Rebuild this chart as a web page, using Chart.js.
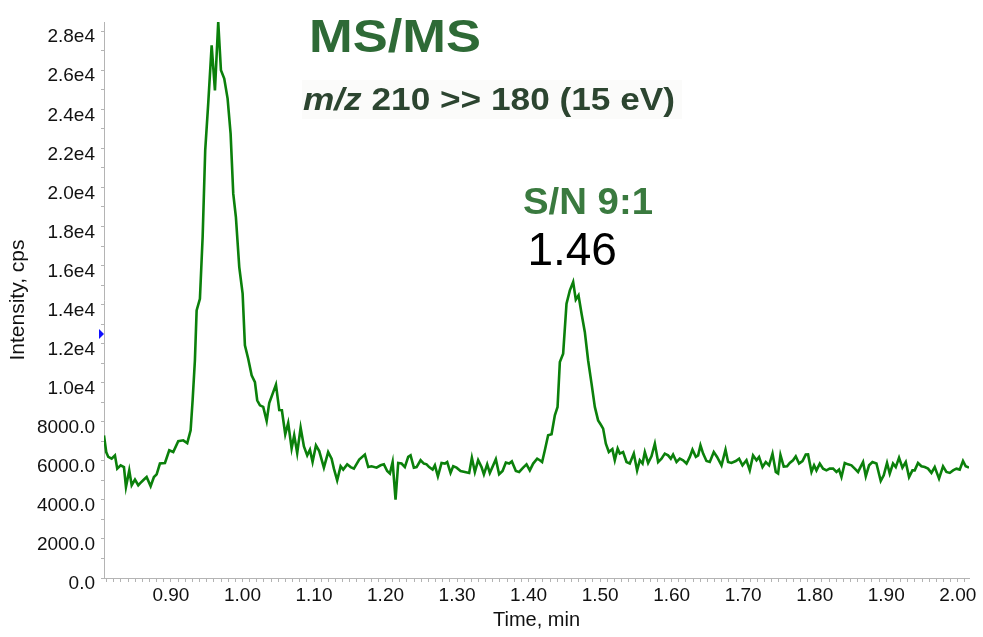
<!DOCTYPE html>
<html lang="en">
<head>
    <meta charset="UTF-8">
    <title>MS/MS chromatogram</title>
    <script src="https://cdn.jsdelivr.net/npm/chart.js"></script>
    <style>
        html, body { margin: 0; padding: 0; background: #ffffff; }
        #chrom { display: block; }
    </style>
</head>
<body>
    <canvas id="chrom" width="983" height="637"></canvas>

    <script>
        // retention time, min
        const times = [
            0.8064, 0.8095, 0.8124, 0.8171, 0.8217, 0.8249, 0.8297, 0.8343, 0.8371, 0.8417,
            0.8451, 0.8497, 0.8543, 0.8571, 0.8615, 0.8660, 0.8716, 0.8762, 0.8800, 0.8846,
            0.8916, 0.8976, 0.9032, 0.9102, 0.9172, 0.9228, 0.9275, 0.9303, 0.9335, 0.9359,
            0.9405, 0.9443, 0.9479, 0.9521, 0.9569, 0.9615, 0.9661, 0.9699, 0.9745, 0.9792,
            0.9834, 0.9871, 0.9908, 0.9955, 1.0002, 1.0034, 1.0080, 1.0128, 1.0174, 1.0206,
            1.0244, 1.0290, 1.0338, 1.0374, 1.0468, 1.0514, 1.0551, 1.0598, 1.0639, 1.0687,
            1.0723, 1.0765, 1.0813, 1.0859, 1.0905, 1.0943, 1.0980, 1.1027, 1.1073, 1.1138,
            1.1198, 1.1246, 1.1278, 1.1324, 1.1372, 1.1408, 1.1464, 1.1512, 1.1558, 1.1632,
            1.1711, 1.1758, 1.1805, 1.1875, 1.1931, 1.1977, 1.2023, 1.2061, 1.2099, 1.2140,
            1.2177, 1.2224, 1.2270, 1.2317, 1.2350, 1.2396, 1.2434, 1.2490, 1.2536, 1.2574,
            1.2610, 1.2658, 1.2690, 1.2732, 1.2783, 1.2830, 1.2862, 1.2909, 1.2946, 1.2993,
            1.3049, 1.3109, 1.3169, 1.3207, 1.3249, 1.3295, 1.3342, 1.3375, 1.3421, 1.3458,
            1.3542, 1.3588, 1.3636, 1.3682, 1.3728, 1.3766, 1.3822, 1.3868, 1.3924, 1.3971,
            1.4017, 1.4064, 1.4120, 1.4157, 1.4189, 1.4227, 1.4273, 1.4321, 1.4367, 1.4405,
            1.4437, 1.4483, 1.4530, 1.4577, 1.4623, 1.4660, 1.4698, 1.4740, 1.4786, 1.4832,
            1.4880, 1.4926, 1.4972, 1.5006, 1.5042, 1.5080, 1.5122, 1.5171, 1.5205, 1.5245,
            1.5275, 1.5321, 1.5369, 1.5415, 1.5471, 1.5517, 1.5555, 1.5593, 1.5625, 1.5671,
            1.5718, 1.5765, 1.5811, 1.5858, 1.5904, 1.5950, 1.5988, 1.6020, 1.6068, 1.6114,
            1.6160, 1.6208, 1.6254, 1.6291, 1.6338, 1.6370, 1.6403, 1.6440, 1.6487, 1.6533,
            1.6589, 1.6635, 1.6697, 1.6753, 1.6789, 1.6836, 1.6897, 1.6943, 1.6990, 1.7046,
            1.7092, 1.7138, 1.7186, 1.7222, 1.7270, 1.7316, 1.7362, 1.7410, 1.7456, 1.7488,
            1.7521, 1.7567, 1.7614, 1.7651, 1.7697, 1.7735, 1.7781, 1.7829, 1.7875, 1.7907,
            1.7955, 1.7991, 1.8024, 1.8071, 1.8117, 1.8164, 1.8210, 1.8257, 1.8304, 1.8340,
            1.8374, 1.8420, 1.8466, 1.8514, 1.8560, 1.8606, 1.8676, 1.8714, 1.8760, 1.8807,
            1.8863, 1.8923, 1.8965, 1.9011, 1.9049, 1.9095, 1.9133, 1.9179, 1.9226, 1.9273,
            1.9319, 1.9366, 1.9398, 1.9444, 1.9492, 1.9538, 1.9584, 1.9632, 1.9678, 1.9738,
            1.9794, 1.9841, 1.9888, 1.9934, 1.9981, 2.0027, 2.0073, 2.0111, 2.0157
        ];

        // intensity, cps
        const intensities = [
            7300, 6450, 6200, 6110, 6280, 5600, 5770, 5680, 4660, 5510,
            4750, 5040, 4750, 4860, 5020, 5170, 4700, 5170, 5310, 5860,
            5890, 6540, 6450, 7010, 7050, 6910, 7560, 9100, 11150, 13700,
            14300, 17460, 21900, 24290, 27270, 24970, 28470, 26000, 25570, 24550,
            22750, 19680, 18480, 15920, 14560, 11910, 11230, 10380, 10030, 9100,
            8840, 8760, 8040, 8960, 9900, 8600, 8590, 7360, 7940, 6630,
            7310, 6400, 7700, 6740, 6280, 6570, 5940, 6790, 6500, 5650,
            6450, 6110, 5600, 5000, 5720, 5550, 5820, 5680, 5600, 6060,
            6320, 5680, 5720, 5650, 5770, 5820, 5480, 5350, 5940, 4010,
            5890, 5860, 5680, 6200, 6280, 5650, 5680, 6030, 5860, 5820,
            5680, 5550, 5770, 5210, 5890, 5860, 5940, 5380, 5720, 5650,
            5480, 5430, 5380, 6160, 5430, 6030, 5680, 5310, 5820, 5380,
            6080, 5310, 5480, 5910, 5860, 5970, 5480, 5430, 5650, 5820,
            5510, 5860, 6110, 6030, 5940, 6540, 7310, 7360, 8330, 8760,
            11060, 11490, 14050, 14730, 15160, 14250, 14470, 13540, 12600, 11150,
            9950, 8760, 8070, 7870, 7650, 6880, 6450, 6600, 6030, 6630,
            6370, 6450, 5940, 5860, 6370, 5510, 6030, 5860, 6450, 5890,
            6230, 6880, 5940, 6110, 6370, 6280, 6110, 6320, 5940, 6110,
            6030, 5860, 6200, 6570, 6200, 6280, 6790, 6370, 5990, 5940,
            6450, 6200, 5770, 6570, 5940, 5890, 5990, 6110, 5770, 6030,
            5510, 6280, 6030, 6200, 5680, 5940, 5770, 6370, 5430, 5350,
            6300, 5700, 5720, 5890, 6030, 6230, 5860, 5990, 6320, 6330,
            5430, 5770, 5510, 5860, 5600, 5510, 5600, 5600, 5430, 5550,
            5170, 5890, 5820, 5770, 5600, 5430, 5940, 5210, 5770, 5940,
            5860, 4970, 5260, 5890, 5350, 5860, 5680, 6160, 5650, 5940,
            5170, 5510, 5510, 5890, 5720, 5680, 5600, 5380, 5680, 5090,
            5720, 5430, 5380, 5510, 5600, 5550, 5990, 5720, 5650
        ];

        const xRange = [0.8064, 2.0157];
        const yRange = [0, 28470];
        const xMinorStep = 0.01;
        const yMinorStep = 1000;

        const peakLabel = '1.46';
        const peakTime = 1.4623;
        const markerIntensity = 12500;

        const titleText = 'MS/MS';
        const transitionItalic = 'm/z';
        const transitionText = ' 210 >> 180 (15 eV)';
        const snText = 'S/N 9:1';

        const FONT = "'Liberation Sans', Arial, Helvetica, sans-serif";
        const TRACE_GREEN = '#0b800b';
        const AXIS_GREY = '#b4b4b4';

        Chart.defaults.font.family = FONT;
        Chart.defaults.color = '#111';

        function stepTicks(lo, hi, step) {
            const out = [];
            const first = Math.ceil(lo / step - 1e-6);
            const last = Math.floor(hi / step + 1e-6);
            for (let i = first; i <= last; i++) {
                out.push({ value: +(i * step).toFixed(4) });
            }
            return out;
        }

        // text that was pasted into the original figure, stretched to its width there
        function stretchedText(ctx, parts, x, y, targetWidth) {
            ctx.save();
            let natural = 0;
            parts.forEach(p => { ctx.font = p.font; natural += ctx.measureText(p.text).width; });
            const sx = targetWidth ? targetWidth / natural : 1;
            ctx.translate(x, y);
            ctx.scale(sx, 1);
            let cx = 0;
            parts.forEach(p => {
                ctx.font = p.font;
                ctx.fillStyle = p.color;
                ctx.textBaseline = 'alphabetic';
                ctx.textAlign = 'left';
                ctx.fillText(p.text, cx, 0);
                cx += ctx.measureText(p.text).width;
            });
            ctx.restore();
        }

        const annotations = {
            id: 'annotations',
            afterDraw(chart) {
                const ctx = chart.ctx;
                const xs = chart.scales.x;
                const ys = chart.scales.y;
                const area = chart.chartArea;

                // very faint box behind the transition line
                ctx.save();
                ctx.fillStyle = '#fbfbfa';
                ctx.fillRect(302, 80, 380, 39);
                ctx.restore();

                stretchedText(ctx, [{ text: titleText, font: 'bold 47px ' + FONT, color: '#2e6a36' }], 309, 52, 172);
                stretchedText(ctx, [
                    { text: transitionItalic, font: 'italic bold 32px ' + FONT, color: '#2c4530' },
                    { text: transitionText, font: 'bold 32px ' + FONT, color: '#2c4530' }
                ], 303, 110, 372);
                stretchedText(ctx, [{ text: snText, font: 'bold 36px ' + FONT, color: '#3a7a3f' }], 523, 214, 130);

                // retention time label above the second peak
                const peakIdx = times.indexOf(peakTime);
                const px = xs.getPixelForValue(peakTime);
                const py = ys.getPixelForValue(intensities[peakIdx]);
                ctx.save();
                ctx.font = '46px ' + FONT;
                ctx.fillStyle = '#000';
                ctx.textAlign = 'center';
                ctx.textBaseline = 'alphabetic';
                ctx.fillText(peakLabel, px - 1, py - 17);
                ctx.restore();

                // small blue marker on the intensity axis
                const my = ys.getPixelForValue(markerIntensity);
                ctx.save();
                ctx.fillStyle = '#1010ff';
                ctx.beginPath();
                ctx.moveTo(area.left - 5, my - 5);
                ctx.lineTo(area.left, my);
                ctx.lineTo(area.left - 5, my + 5);
                ctx.closePath();
                ctx.fill();
                ctx.restore();
            }
        };

        new Chart(document.getElementById('chrom').getContext('2d'), {
            type: 'line',
            data: {
                datasets: [{
                    data: times.map((t, i) => ({ x: t, y: intensities[i] })),
                    borderColor: TRACE_GREEN,
                    borderWidth: 2.6,
                    pointRadius: 0,
                    tension: 0,
                    fill: false
                }]
            },
            options: {
                responsive: false,
                animation: false,
                devicePixelRatio: 1,
                layout: { padding: { top: 22, right: 14, bottom: 0, left: 0 } },
                plugins: {
                    legend: { display: false },
                    tooltip: { enabled: false }
                },
                scales: {
                    x: {
                        type: 'linear',
                        min: xRange[0],
                        max: xRange[1],
                        afterBuildTicks: scale => { scale.ticks = stepTicks(scale.min, scale.max, xMinorStep); },
                        afterFit: scale => { scale.height = 59; },
                        ticks: {
                            autoSkip: false,
                            maxRotation: 0,
                            padding: 2,
                            color: '#111',
                            font: { size: 19 },
                            callback: value => {
                                const k = Math.round(value * 100);
                                return k % 10 === 0 ? (k / 100).toFixed(2) : '';
                            }
                        },
                        grid: {
                            drawOnChartArea: false,
                            drawTicks: true,
                            tickLength: 4,
                            color: AXIS_GREY
                        },
                        border: { display: true, color: AXIS_GREY, width: 1 },
                        title: {
                            display: true,
                            text: 'Time, min',
                            color: '#111',
                            font: { size: 20 },
                            padding: { top: 4, bottom: 5 }
                        }
                    },
                    y: {
                        type: 'linear',
                        min: yRange[0],
                        max: yRange[1],
                        afterBuildTicks: scale => { scale.ticks = stepTicks(scale.min, scale.max, yMinorStep); },
                        afterFit: scale => { scale.width = 104; },
                        ticks: {
                            autoSkip: false,
                            padding: 6,
                            labelOffset: 6,
                            color: '#111',
                            font: { size: 19 },
                            callback: value => {
                                if (Math.round(value) % 2000 !== 0) return '';
                                if (value >= 10000) return (value / 10000).toFixed(1) + 'e4';
                                return value.toFixed(1);
                            }
                        },
                        grid: {
                            drawOnChartArea: false,
                            drawTicks: true,
                            tickLength: 3,
                            color: AXIS_GREY
                        },
                        border: { display: true, color: AXIS_GREY, width: 1 },
                        title: {
                            display: true,
                            text: 'Intensity, cps',
                            color: '#111',
                            font: { size: 21 },
                            padding: { top: 6, bottom: 4 }
                        }
                    }
                }
            },
            plugins: [annotations]
        });
    </script>
</body>
</html>
